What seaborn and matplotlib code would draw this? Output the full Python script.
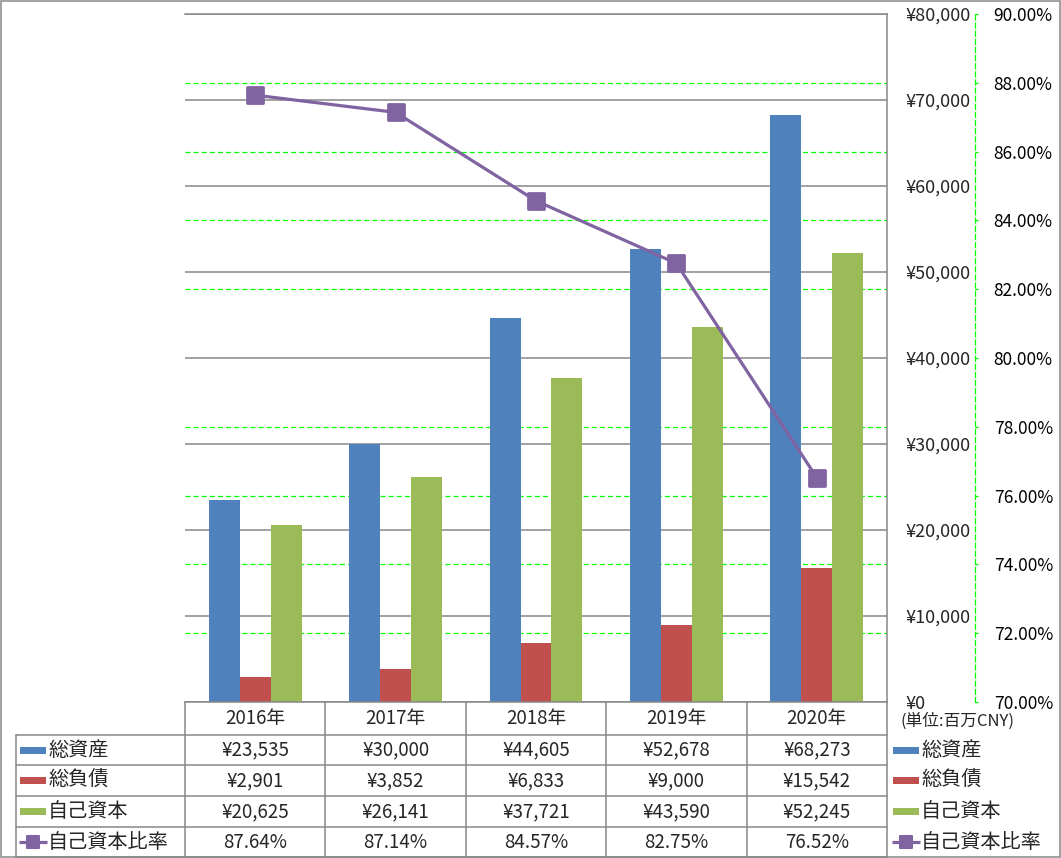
import matplotlib
matplotlib.use("Agg")
import matplotlib.pyplot as plt
import seaborn as sns
import pandas as pd
import numpy as np
from matplotlib.ticker import MultipleLocator, FuncFormatter
from matplotlib.markers import MarkerStyle
from matplotlib.patches import Rectangle

# data
years = ["2016年", "2017年", "2018年", "2019年", "2020年"]
total_assets = [23535, 30000, 44605, 52678, 68273]
total_liabilities = [2901, 3852, 6833, 9000, 15542]
equity = [20625, 26141, 37721, 43590, 52245]
equity_ratio = [87.64, 87.14, 84.57, 82.75, 76.52]
bar_names = ["総資産", "総負債", "自己資本"]
ratio_name = "自己資本比率"
unit_note = "(単位:百万CNY)"

bar_colors = ["#4F81BD", "#C0504D", "#9BBB59"]
line_color = "#8064A2"
grid_gray = "#878787"
green = "#00FF00"

sns.set_style("white")
plt.rcParams["font.family"] = ["Noto Sans CJK JP", "DejaVu Sans"]

W, H = 1061, 858
fig = plt.figure(figsize=(W / 100, H / 100), dpi=100)

# overlay in pixel coordinates for the data table and frame
ov = fig.add_axes([0, 0, 1, 1])
ov.set_xlim(0, W)
ov.set_ylim(H, 0)
ov.axis("off")

# main plot area (pixels): x 185..887, y 14..702
px0, px1, py0, py1 = 185, 887, 14, 702
ax = fig.add_axes([px0 / W, (H - py1) / H, (px1 - px0) / W, (py1 - py0) / H])
ax.patch.set_alpha(0)

wide = pd.DataFrame({"year": years, bar_names[0]: total_assets,
                     bar_names[1]: total_liabilities, bar_names[2]: equity})
long = wide.melt(id_vars="year", var_name="series", value_name="value")

sns.barplot(data=long, x="year", y="value", hue="series", palette=bar_colors,
            width=0.66, saturation=1, linewidth=0, legend=False, ax=ax)

# secondary axis for the ratio
ax2 = ax.twinx()
ax2.patch.set_alpha(0)
sns.pointplot(x=years, y=equity_ratio, color=line_color, markers="s",
              markersize=11.5, linewidth=2.3, errorbar=None, ax=ax2)
for ln in ax2.lines:
    ln.set_marker(MarkerStyle("s", joinstyle="round"))
    ln.set_markeredgewidth(2)
    ln.set_markeredgecolor(line_color)
    ln.set_markerfacecolor(line_color)

ax.set_xlim(-0.5, len(years) - 0.5)
ax.set_ylim(0, 80000)
ax.yaxis.tick_right()
ax.yaxis.set_major_locator(MultipleLocator(10000))
ax.yaxis.set_minor_locator(MultipleLocator(8000))
ax.yaxis.set_major_formatter(FuncFormatter(lambda v, p: f"¥{v:,.0f}"))
ax.set_axisbelow(True)
ax.grid(which="major", axis="y", color=grid_gray, lw=1.1, ls="-")
ax.grid(which="minor", axis="y", color=green, lw=0.9, ls=(0, (4, 2.5)))
ax.tick_params(axis="y", which="major", length=0, pad=13, labelsize=13)
ax.tick_params(axis="y", which="minor", length=0)
ax.tick_params(axis="x", length=0, labelbottom=False)
ax.set_xlabel("")
ax.set_ylabel("")
ax.spines["left"].set_visible(False)
for s in ["top", "bottom", "right"]:
    ax.spines[s].set_color(grid_gray)
    ax.spines[s].set_linewidth(1.1)

ax2.set_xlim(-0.5, len(years) - 0.5)
ax2.set_ylim(70, 90)
ax2.yaxis.set_major_locator(MultipleLocator(2))
ax2.yaxis.set_major_formatter(FuncFormatter(lambda v, p: f"{v:.2f}%"))
ax2.set_ylabel("")
ax2.set_xlabel("")
ax2.grid(False)
for s in ["top", "bottom", "left"]:
    ax2.spines[s].set_visible(False)
ax2.spines["right"].set_position(("axes", (975 - px0) / (px1 - px0)))
ax2.spines["right"].set_color(green)
ax2.spines["right"].set_linestyle((0, (4, 2.5)))
ax2.spines["right"].set_linewidth(0.9)
ax2.tick_params(axis="y", direction="out", length=2.5, width=0.9, color=green,
                labelcolor="black", pad=11, labelsize=12.5)

# data table below the plot
col_w = (px1 - px0) / len(years)
row_edges = [702, 735, 765, 796, 827, 857]
line_kw = dict(color=grid_gray, lw=1.1)
for k in range(len(years) + 1):
    x = px0 + k * col_w
    ov.plot([x, x], [row_edges[0], row_edges[-1]], **line_kw)
ov.plot([16, 16], [row_edges[1], row_edges[-1]], **line_kw)
for y in row_edges[1:]:
    ov.plot([16, px1], [y, y], **line_kw)

centers = [(row_edges[i] + row_edges[i + 1]) / 2 for i in range(5)]
table_rows = [
    [f"¥{v:,}" for v in total_assets],
    [f"¥{v:,}" for v in total_liabilities],
    [f"¥{v:,}" for v in equity],
    [f"{v:.2f}%" for v in equity_ratio],
]
for j, yr in enumerate(years):
    xc = px0 + (j + 0.5) * col_w
    ov.text(xc, centers[0], yr, ha="center", va="center", fontsize=13.5)
    for i, row in enumerate(table_rows):
        ov.text(xc, centers[i + 1], row[j], ha="center", va="center", fontsize=13.5)


def legend_key(x0, yc, i):
    if i < 3:
        ov.add_patch(Rectangle((x0, yc - 3.5), 26, 7, color=bar_colors[i], lw=0))
    else:
        ov.plot([x0 - 1, x0 + 27], [yc, yc], color=line_color, lw=2.3,
                solid_capstyle="butt")
        ov.plot([x0 + 13], [yc], marker=MarkerStyle("s", joinstyle="round"),
                ms=8, mew=1.5, color=line_color)


labels = bar_names + [ratio_name]
for i, name in enumerate(labels):
    yc = centers[i + 1]
    legend_key(20, yc, i)
    ov.text(48, yc, name, ha="left", va="center", fontsize=14.5)
    legend_key(893, yc, i)
    ov.text(921, yc, name, ha="left", va="center", fontsize=14.5)

ov.text(901, 721, unit_note, ha="left", va="center", fontsize=12)

# outer frame
ov.add_patch(Rectangle((0.5, 0.5), W - 1.5, H - 1.5, fill=False,
                       edgecolor=grid_gray, lw=1.1))

fig.savefig("out.png", dpi=100)
